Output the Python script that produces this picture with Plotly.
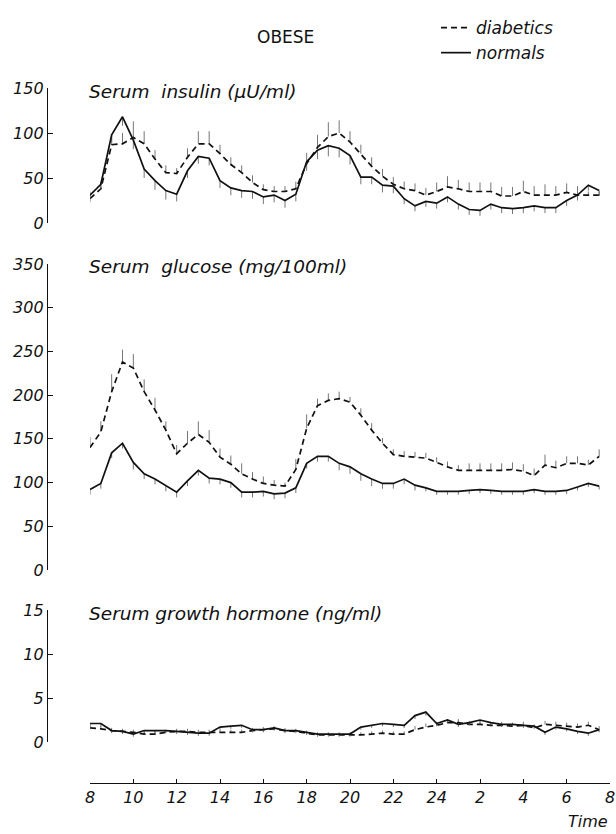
import plotly.graph_objects as go

# ---------------- data (half-hourly, hours after 08:00) ----------------
hours = [i * 0.5 for i in range(48)]
tick_vals = [0, 2, 4, 6, 8, 10, 12, 14, 16, 18, 20, 22, 24]
tick_text = ["8", "10", "12", "14", "16", "18", "20", "22", "24", "2", "4", "6", "8"]

insulin_diab = [27, 38, 87, 88, 95, 88, 71, 56, 55, 73, 88, 88, 77, 65, 56, 45,
                37, 35, 35, 38, 66, 84, 96, 100, 90, 77, 63, 52, 43, 38, 36, 31,
                35, 40, 38, 35, 35, 35, 30, 30, 35, 31, 31, 31, 34, 31, 31, 31]
insulin_diab_sem = [8, 8, 10, 12, 18, 14, 10, 8, 6, 10, 14, 14, 10, 8, 8, 8,
                    6, 6, 6, 8, 12, 14, 16, 14, 12, 10, 10, 8, 8, 8, 8, 8,
                    10, 12, 10, 10, 10, 10, 10, 10, 12, 10, 12, 10, 10, 10, 4, 4]
insulin_norm = [31, 43, 98, 118, 92, 60, 47, 36, 32, 58, 74, 72, 47, 39, 36, 35,
                29, 31, 25, 32, 68, 81, 86, 83, 75, 51, 51, 42, 41, 27, 19, 24,
                22, 29, 21, 15, 14, 21, 17, 16, 17, 19, 17, 17, 25, 31, 42, 36]
insulin_norm_sem = [8, 6, 8, 10, 10, 10, 10, 10, 8, 8, 8, 8, 8, 8, 8, 8,
                    8, 8, 8, 8, 10, 10, 12, 10, 10, 8, 8, 8, 8, 6, 6, 6,
                    6, 6, 6, 6, 6, 6, 6, 6, 6, 6, 6, 6, 6, 6, 6, 6]

glucose_diab = [140, 158, 204, 238, 231, 204, 183, 160, 133, 145, 155, 146, 129, 121, 110, 104,
                99, 97, 96, 115, 162, 188, 194, 196, 192, 177, 160, 145, 132, 130, 129, 128,
                123, 118, 114, 114, 114, 114, 114, 115, 113, 108, 120, 117, 122, 122, 120, 130]
glucose_diab_sem = [12, 12, 20, 14, 16, 14, 14, 10, 10, 14, 15, 14, 10, 10, 12, 8,
                    8, 6, 4, 12, 16, 8, 8, 8, 6, 8, 8, 6, 6, 6, 6, 6,
                    6, 6, 6, 8, 8, 8, 8, 8, 8, 8, 12, 8, 8, 8, 6, 8]
glucose_norm = [92, 99, 134, 145, 123, 110, 104, 96, 89, 102, 114, 105, 104, 100, 89, 89,
                90, 87, 88, 94, 122, 130, 130, 122, 118, 110, 104, 99, 99, 104, 97, 94,
                90, 90, 90, 91, 92, 91, 90, 90, 90, 92, 90, 90, 91, 95, 99, 96]
glucose_norm_sem = [6, 6, 6, 6, 8, 6, 6, 6, 6, 6, 6, 6, 6, 6, 6, 6,
                    6, 6, 6, 6, 6, 6, 6, 8, 8, 8, 8, 6, 6, 6, 6, 4,
                    4, 4, 4, 4, 4, 4, 4, 4, 4, 4, 4, 4, 4, 4, 4, 4]

gh_diab = [1.6, 1.5, 1.3, 1.2, 1.1, 0.9, 0.9, 1.1, 1.2, 1.2, 1.1, 1.1, 1.1, 1.1, 1.1, 1.3,
           1.4, 1.5, 1.3, 1.2, 1.0, 0.8, 0.8, 0.8, 0.8, 0.8, 0.9, 1.0, 0.9, 0.9, 1.4, 1.7,
           1.9, 2.2, 2.2, 2.0, 2.0, 1.9, 1.9, 1.8, 1.9, 1.6, 2.0, 1.9, 1.8, 1.7, 1.9, 1.4]
gh_diab_sem = [0.3, 0.3, 0.3, 0.3, 0.3, 0.3, 0.3, 0.3, 0.3, 0.3, 0.3, 0.3, 0.3, 0.3, 0.3, 0.3,
               0.3, 0.3, 0.3, 0.3, 0.3, 0.3, 0.3, 0.3, 0.3, 0.3, 0.3, 0.3, 0.3, 0.3, 0.4, 0.4,
               0.4, 0.4, 0.4, 0.4, 0.4, 0.4, 0.4, 0.4, 0.4, 0.4, 0.4, 0.4, 0.4, 0.4, 0.4, 0.4]
gh_norm = [2.1, 2.1, 1.3, 1.2, 0.9, 1.3, 1.3, 1.3, 1.2, 1.1, 1.0, 1.0, 1.7, 1.8, 1.9, 1.4,
           1.4, 1.6, 1.3, 1.3, 1.1, 0.9, 0.9, 0.9, 0.9, 1.7, 1.9, 2.1, 2.0, 1.9, 3.0, 3.4,
           2.1, 2.5, 2.0, 2.2, 2.5, 2.2, 2.0, 2.0, 1.9, 1.8, 1.1, 1.7, 1.5, 1.2, 1.0, 1.4]
gh_norm_sem = [0.5, 0.4, 0.3, 0.3, 0.3, 0.3, 0.3, 0.3, 0.3, 0.3, 0.3, 0.3, 0.3, 0.3, 0.3, 0.3,
               0.3, 0.3, 0.3, 0.3, 0.3, 0.3, 0.3, 0.3, 0.3, 0.3, 0.3, 0.3, 0.3, 0.3, 0.4, 0.4,
               0.3, 0.3, 0.3, 0.3, 0.3, 0.3, 0.3, 0.3, 0.3, 0.3, 0.3, 0.3, 0.3, 0.3, 0.3, 0.3]

panel_titles = ["Serum  insulin (\u00b5U/ml)", "Serum  glucose (mg/100ml)", "Serum growth hormone (ng/ml)"]
series_names = ["diabetics", "normals"]

# ---------------- layout helpers (pixel -> paper) ----------------
W, H = 616, 834
px = lambda x: x / W
py = lambda y: 1 - y / H

FONT = "DejaVu Sans"
INK = "#111111"
BAR = "#666666"

fig = go.Figure()

panels = [
    ("y", insulin_diab, insulin_diab_sem, insulin_norm, insulin_norm_sem),
    ("y2", glucose_diab, glucose_diab_sem, glucose_norm, glucose_norm_sem),
    ("y3", gh_diab, gh_diab_sem, gh_norm, gh_norm_sem),
]
for i, (ya, d, dsem, n, nsem) in enumerate(panels):
    fig.add_trace(go.Scatter(
        x=hours, y=d, yaxis=ya, mode="lines", name=series_names[0],
        showlegend=(i == 0), legendrank=1,
        line=dict(color=INK, width=1.7, dash="6px,4px"),
        error_y=dict(type="data", symmetric=False, array=dsem,
                     arrayminus=[0] * len(dsem), thickness=0.9, width=0, color=BAR),
    ))
    fig.add_trace(go.Scatter(
        x=hours, y=n, yaxis=ya, mode="lines", name=series_names[1],
        showlegend=(i == 0), legendrank=2,
        line=dict(color=INK, width=1.7),
        error_y=dict(type="data", symmetric=False, array=[0] * len(nsem),
                     arrayminus=nsem, thickness=0.9, width=0, color=BAR),
    ))

tickfont = dict(family=FONT, size=16, color=INK, style="italic")
yax_common = dict(anchor="free", position=px(47), showgrid=False, zeroline=False,
                  showline=True, linecolor=INK, linewidth=1.3, ticks="inside",
                  ticklen=5, tickcolor=INK, tickwidth=1.3, tickfont=tickfont,
                  automargin=False, fixedrange=True)

fig.update_layout(
    width=W, height=H,
    margin=dict(l=0, r=0, t=0, b=0),
    paper_bgcolor="white", plot_bgcolor="white",
    showlegend=True,
    legend=dict(x=px(436), y=py(10), xanchor="left", yanchor="top",
                font=dict(family=FONT, size=17, color=INK, style="italic"),
                bgcolor="rgba(0,0,0,0)", tracegroupgap=0, itemwidth=30),
    xaxis=dict(domain=[px(90), px(610)], range=[0, 24], anchor="free", position=py(783),
               tickvals=tick_vals, ticktext=tick_text, showgrid=False, zeroline=False,
               showline=True, linecolor=INK, linewidth=1.3, ticks="inside", ticklen=4,
               tickcolor=INK, tickwidth=1.3, tickfont=tickfont, automargin=False,
               fixedrange=True),
    yaxis=dict(domain=[py(223), py(88)], range=[0, 150], tickvals=[0, 50, 100, 150], **yax_common),
    yaxis2=dict(domain=[py(570), py(264)], range=[0, 350],
                tickvals=[0, 50, 100, 150, 200, 250, 300, 350], **yax_common),
    yaxis3=dict(domain=[py(742), py(610)], range=[0, 15], tickvals=[0, 5, 10, 15], **yax_common),
)

title_font = dict(family=FONT, size=18.5, color=INK, style="italic")
for title, ycen in zip(panel_titles, [92, 266, 613]):
    fig.add_annotation(text=title, x=px(87), y=py(ycen), xref="paper", yref="paper",
                       xanchor="left", yanchor="middle", showarrow=False, font=title_font)

fig.add_annotation(text="OBESE", x=px(285), y=py(37), xref="paper", yref="paper",
                   xanchor="center", yanchor="middle", showarrow=False,
                   font=dict(family=FONT, size=17, color=INK))
fig.add_annotation(text="Time", x=px(610), y=py(821), xref="paper", yref="paper",
                   xanchor="right", yanchor="middle", showarrow=False,
                   font=dict(family=FONT, size=16, color=INK, style="italic"))

fig.write_html("out.html", config={"displayModeBar": False},
               post_script="document.body.style.margin='0';document.body.style.overflow='hidden';")
